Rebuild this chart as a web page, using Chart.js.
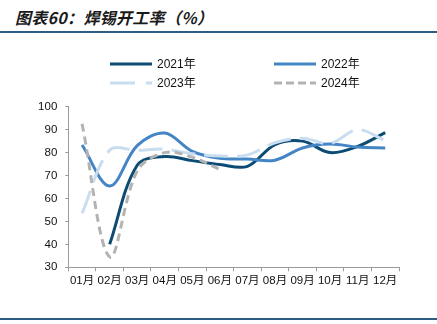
<!DOCTYPE html>
<html>
<head>
<meta charset="utf-8">
<script src="https://cdn.jsdelivr.net/npm/chart.js@4/dist/chart.umd.min.js"></script>
<style>
  html, body { margin: 0; padding: 0; background: #fff; }
  #wrap { position: relative; width: 437px; height: 324px; overflow: hidden; }
  #title { position: absolute; left: 15px; top: 5px; font: italic bold 16px "Noto Sans CJK SC", sans-serif; color: #1a1a1a; letter-spacing: 0.3px; white-space: nowrap; }
  .rule { position: absolute; left: 0; width: 437px; height: 1.5px; background: #2b5d84; }
  canvas { position: absolute; left: 0; top: 0; }
</style>
</head>
<body>
<div id="wrap">
  <div id="title">图表60：焊锡开工率（%）</div>
  <div class="rule" style="top:31px"></div>
  <div class="rule" style="top:318px"></div>
  <canvas id="c" width="437" height="324"></canvas>
</div>
<script>
const categories = ["01月","02月","03月","04月","05月","06月","07月","08月","09月","10月","11月","12月"];
const seriesNames = ["2021年","2022年","2023年","2024年"];
const s2021 = [null, 40, 74.5, 78.3, 76.5, 74.8, 74, 83.5, 85, 80, 82.7, 88.7];
const s2022 = [83.3, 65.4, 83, 88.5, 80.5, 77.5, 77.2, 76.7, 82, 83.7, 82.4, 82];
const s2023 = [53.5, 81, 81, 81.5, 79.5, 78.5, 79, 84.3, 86.3, 84, 90, 85.2];
const s2024 = [92.5, 34.5, 72, 80, 78, 72.7];
const yTicks = [30, 40, 50, 60, 70, 80, 90, 100];

const FONT = '"Liberation Sans", Arial, "Noto Sans CJK SC", sans-serif';

const legendPlugin = {
  id: 'gridLegend',
  afterDraw(chart) {
    const ctx = chart.ctx;
    const xs = [110, 274];
    const ys = [64, 83];
    chart.data.datasets.forEach((ds, i) => {
      const x0 = xs[i % 2], y = ys[Math.floor(i / 2)];
      ctx.save();
      ctx.strokeStyle = ds.borderColor;
      ctx.lineWidth = ds.borderWidth;
      ctx.setLineDash(ds.legendDash || []);
      ctx.beginPath();
      ctx.moveTo(x0, y);
      ctx.lineTo(x0 + 42, y);
      ctx.stroke();
      ctx.setLineDash([]);
      ctx.fillStyle = '#111';
      ctx.font = '12px ' + FONT;
      ctx.textBaseline = 'middle';
      ctx.fillText(ds.label, x0 + 47, y + 0.5);
      ctx.restore();
    });
  }
};

new Chart(document.getElementById('c'), {
  type: 'line',
  data: {
    labels: categories,
    datasets: [
      { label: seriesNames[0], data: s2021, borderColor: '#0c4b73', borderWidth: 3, order: 4 },
      { label: seriesNames[1], data: s2022, borderColor: '#4485c5', borderWidth: 3, order: 3 },
      { label: seriesNames[2], data: s2023, borderColor: '#c9ddf1', borderWidth: 3, borderDash: [24, 9], legendDash: [25, 11], order: 2 },
      { label: seriesNames[3], data: s2024, borderColor: '#b3b3b3', borderWidth: 3, borderDash: [8, 5], legendDash: [8, 4], order: 1 }
    ]
  },
  options: {
    responsive: false,
    animation: false,
    devicePixelRatio: 1,
    layout: { padding: { left: 0, right: 38, top: 106.7, bottom: 32.7 } },
    elements: {
      point: { radius: 0, hoverRadius: 0 },
      line: { tension: 0.35, fill: false, borderCapStyle: 'butt' }
    },
    plugins: { legend: { display: false }, tooltip: { enabled: false }, title: { display: false } },
    scales: {
      x: {
        offset: true,
        grid: { display: true, drawOnChartArea: false, offset: true, tickLength: 4, color: '#9a9a9a', lineWidth: 1 },
        border: { display: true, color: '#9a9a9a', width: 1 },
        ticks: { color: '#111', font: { size: 11.5, family: FONT }, padding: 3, maxRotation: 0, autoSkip: false },
        afterFit(s) { s.height = 24; }
      },
      y: {
        min: 30, max: 100,
        afterBuildTicks(s) { s.ticks = yTicks.map(v => ({ value: v })); },
        grid: { display: true, drawOnChartArea: false, tickLength: 3, color: '#9a9a9a', lineWidth: 1 },
        border: { display: true, color: '#9a9a9a', width: 1 },
        ticks: { color: '#111', font: { size: 11.5, family: FONT }, padding: 8 },
        afterFit(s) { s.width = 68.3; }
      }
    }
  },
  plugins: [legendPlugin]
});
</script>
</body>
</html>
